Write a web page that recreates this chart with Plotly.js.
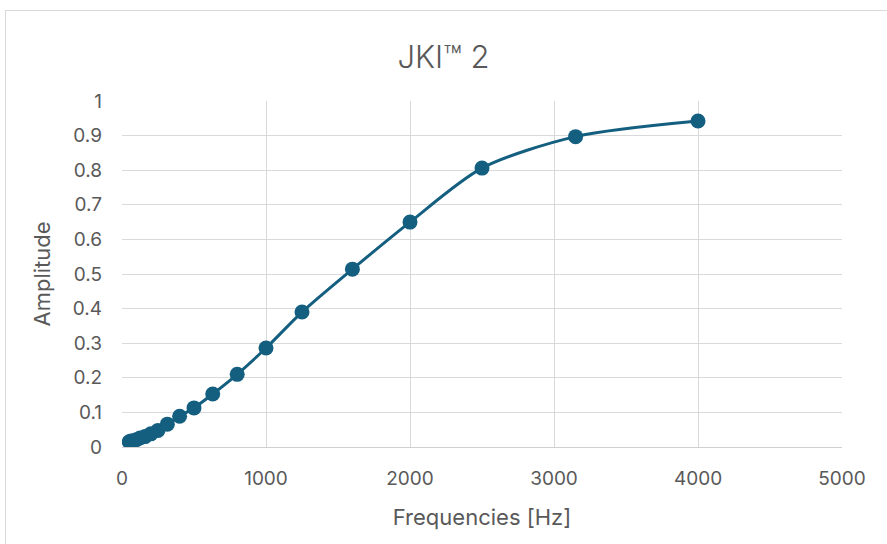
<!DOCTYPE html>
<html>
<head>
<meta charset="utf-8">
<script src="https://cdn.plot.ly/plotly-3.0.1.min.js"></script>
<style>
html,body{margin:0;padding:0;background:#fff;}
#chart{width:887px;height:544px;}
#frame{position:absolute;left:5px;top:10px;width:900px;height:560px;border:1px solid #d9d9d9;pointer-events:none;}
</style>
</head>
<body>
<div id="chart"></div>
<div id="frame"></div>
<script>
const frequencies = [50, 63, 80, 100, 125, 160, 200, 250, 315, 400, 500, 630, 800, 1000, 1250, 1600, 2000, 2500, 3150, 4000];
const amplitude = [0.015, 0.017, 0.018, 0.021, 0.026, 0.030, 0.038, 0.048, 0.066, 0.089, 0.113, 0.153, 0.210, 0.286, 0.390, 0.514, 0.650, 0.806, 0.897, 0.942];
const yTicks = [0, 0.1, 0.2, 0.3, 0.4, 0.5, 0.6, 0.7, 0.8, 0.9, 1];
const yTickLabels = ['0', '0.1', '0.2', '0.3', '0.4', '0.5', '0.6', '0.7', '0.8', '0.9', '1'];
const xTicks = [0, 1000, 2000, 3000, 4000, 5000];

const col = '#145f80';
const txt = '#595959';
const fam = 'Inter, "Open Sans", sans-serif';

Plotly.newPlot('chart', [{
  x: frequencies, y: amplitude, type: 'scatter', mode: 'lines+markers',
  line: {color: col, width: 3, shape: 'spline', smoothing: 0.8},
  marker: {color: col, size: 15},
  hoverinfo: 'x+y'
}], {
  width: 887, height: 544,
  margin: {l: 122, r: 45, t: 101, b: 97},
  paper_bgcolor: '#fff', plot_bgcolor: '#fff',
  font: {family: fam, color: txt, size: 19},
  showlegend: false,
  title: {text: 'JKI™ 2', x: 0.5, xanchor: 'center', y: 0.895, yanchor: 'middle', font: {size: 31, color: txt, family: fam, weight: 300}},
  xaxis: {
    range: [0, 5000], tickvals: xTicks, ticktext: xTicks.map(String),
    showgrid: true, gridcolor: '#d9d9d9', gridwidth: 1,
    zeroline: false, showline: true, linecolor: '#d0d0d0', linewidth: 1,
    ticks: '', tickfont: {size: 19, color: txt}, ticklabelstandoff: 14,
    title: {text: 'Frequencies [Hz]', font: {size: 22, color: txt}, standoff: 20}
  },
  yaxis: {
    range: [0, 1], tickvals: yTicks, ticktext: yTickLabels,
    showgrid: true, gridcolor: '#d9d9d9', gridwidth: 1,
    zeroline: false, showline: false,
    ticks: '', tickfont: {size: 19, color: txt}, ticklabelstandoff: 19,
    title: {text: 'Amplitude', font: {size: 22, color: txt}, standoff: 16}
  }
}, {displayModeBar: false, staticPlot: true});
</script>
</body>
</html>
